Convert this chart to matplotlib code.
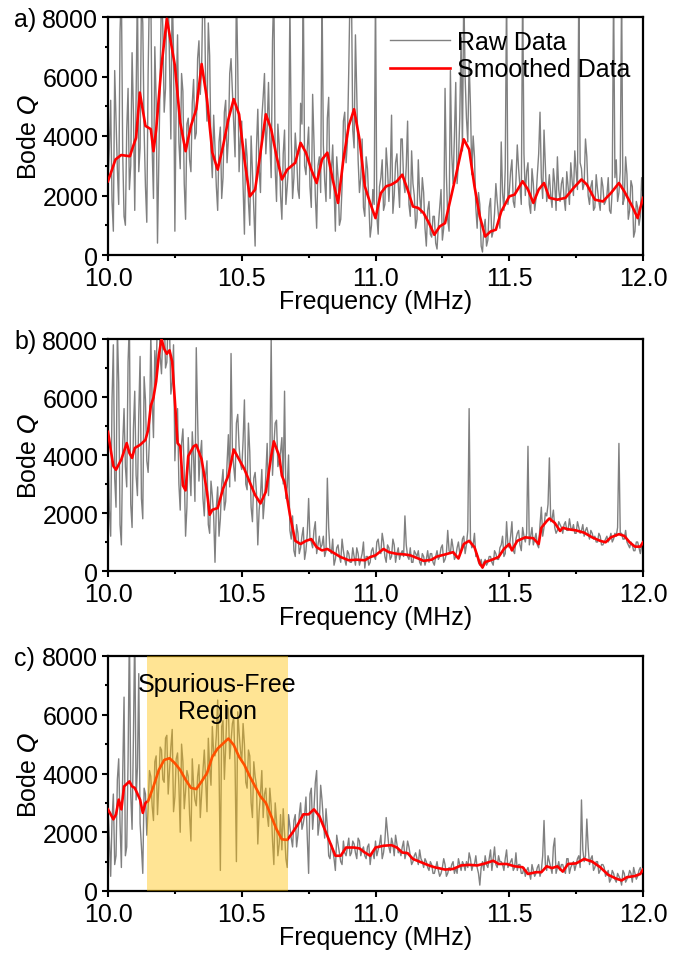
import numpy as np
import matplotlib
matplotlib.use("Agg")
import matplotlib.pyplot as plt
from matplotlib.ticker import MultipleLocator, FormatStrFormatter

plt.rcParams['font.family'] = ['Liberation Sans', 'DejaVu Sans']

# ---------------- data ----------------
# raw data sampled every 0.005 MHz: "on-grid" values at 10.00, 10.01, ...
# and "mid" values at 10.005, 10.015, ...
f_start, f_stop, f_step = 10.0, 12.0, 0.01

raw_a = [
    2400, 5200, 800, 4600, 1700, 9000, 1300, 4200, 2200, 6800,
    1500, 9000, 3600, 7800, 2300, 6100, 9000, 1900, 5200, 3100,
    9000, 4800, 9000, 6500, 9000, 800, 7400, 2900, 5500, 1200,
    4600, 2800, 5900, 4100, 7200, 6300, 9000, 4500, 6700, 2600,
    3600, 1500, 4300, 2600, 5200, 3900, 6600, 4400, 9000, 2800,
    4500, 700, 3300, 1000, 2800, 300, 4900, 2100, 5300, 3400,
    5800, 2600, 9000, 1800, 3700, 1200, 4200, 2300, 8500, 1900,
    4100, 2200, 5100, 9000, 2700, 4300, 1600, 3800, 900, 3300,
    9000, 2500, 4600, 1900, 3700, 800, 2600, 1200, 4500, 3100,
    6200, 9000, 3600, 5400, 2100, 3900, 1300, 2900, 600, 2200,
    9000, 700, 2600, 1500, 3600, 1800, 4700, 2000, 3400, 1600,
    3900, 2100, 4500, 1300, 2400, 900, 3200, 1400, 2100, 300,
    1800, 600, 1300, 200, 1600, 500, 5600, 1200, 6200, 2400,
    5800, 3100, 7300, 9000, 4600, 6500, 2700, 3300, 900, 1700,
    100, 1200, 500, 1900, 800, 2400, 1300, 3800, 1500, 9000,
    2100, 3200, 1600, 3700, 2300, 9000, 2000, 3100, 1400, 2400,
    1900, 3400, 2600, 4200, 1800, 2700, 1600, 2400, 3300, 1800,
    2600, 1500, 2300, 3100, 2000, 2800, 9000, 2900, 2400, 3300,
    1700, 2500, 1600, 2200, 1500, 2300, 1800, 2600, 1400, 9000,
    3200, 2100, 9000, 1900, 2700, 1500, 2300, 800, 1600, 1300,
    2000,
]
raw_a_mid = [
    3600, 1800, 6200, 2900, 7500, 3400, 1000, 5600, 3000, 4800,
    5400, 2800, 8600, 4200, 1100, 9000, 3600, 7000, 400, 6000,
    7600, 5600, 9000, 3900, 6800, 5400, 3800, 6100, 2400, 4400,
    3200, 5100, 3900, 6600, 5400, 9000, 5700, 7800, 3500, 4700,
    2300, 3800, 1900, 4800, 3100, 6100, 5500, 3300, 6400, 3900,
    2300, 3900, 1800, 4000, 1500, 3600, 2900, 4600, 6100, 4300,
    3900, 7200, 2900, 4400, 2000, 3400, 1700, 3000, 4000, 2600,
    3400, 1900, 4400, 3000, 3600, 2300, 5400, 2000, 3000, 2100,
    3700, 1800, 5300, 2800, 2300, 3300, 1000, 2300, 4800, 3800,
    9000, 4200, 7400, 3200, 2600, 1600, 3300, 1800, 1000, 1700,
    1300, 2300, 3200, 1700, 2900, 2600, 1400, 3100, 2400, 3900,
    2500, 3000, 1700, 3500, 2000, 1200, 2000, 2600, 900, 1500,
    700, 1300, 400, 1000, 2200, 900, 2700, 800, 3400, 4000,
    2400, 4600, 3500, 6000, 3800, 5000, 4000, 1600, 2100, 300,
    900, 300, 1600, 600, 1400, 1800, 900, 2100, 2900, 1700,
    2800, 1800, 2500, 2900, 1700, 3400, 2800, 1700, 2900, 1500,
    2700, 4800, 1900, 3000, 2200, 2000, 2900, 1500, 2200, 2400,
    1900, 2800, 1700, 2500, 3500, 2200, 3100, 2200, 3900, 2000,
    2300, 1500, 2700, 1800, 2600, 1700, 2000, 1500, 2200, 2600,
    1800, 2800, 1700, 3300, 1200, 2500, 600, 1800, 1000, 2600,
]

raw_b = [
    4500, 1200, 7800, 2200, 6500, 900, 5600, 2900, 8600, 1500,
    6200, 2600, 7400, 1800, 5900, 3400, 8200, 4600, 6600, 9000,
    6800, 9000, 7200, 8400, 6500, 3800, 5600, 2100, 4900, 1200,
    4600, 2600, 3900, 7700, 3100, 4500, 1900, 3800, 1300, 2600,
    300, 2900, 1800, 3500, 2400, 4700, 7500, 3600, 5100, 4300,
    3500, 5900, 2800, 4100, 1700, 3400, 900, 2600, 1800, 3300,
    2600, 8000, 4300, 5200, 3800, 4600, 6200, 2900, 1400, 1900,
    500, 1300, 800, 1500, 700, 2500, 1000, 1400, 600, 1200,
    900, 500, 3200, 700, 1100, 400, 900, 300, 700, 200,
    600, 300, 500, 800, 200, 600, 100, 500, 300, 800,
    400, 1100, 600, 1000, 300, 800, 500, 900, 600, 400,
    700, 1900, 500, 800, 300, 600, 700, 200, 500, 400,
    300, 600, 200, 700, 500, 900, 400, 1400, 600, 800,
    500, 1000, 700, 1200, 900, 5600, 800, 1300, 600, 200,
    100, 400, 300, 500, 200, 600, 400, 900, 500, 1700,
    800, 1700, 600, 1300, 900, 1500, 1000, 4300, 1200, 900,
    1300, 800, 2200, 1500, 1900, 3900, 1800, 1500, 1400, 1600,
    1300, 1700, 1400, 1500, 1600, 1300, 1500, 1400, 1200, 1500,
    1100, 1300, 1200, 1000, 1200, 900, 1100, 1000, 1300, 1100,
    1200, 4400, 1300, 1100, 1000, 800, 900, 700, 1000, 600,
    1000,
]
raw_b_mid = [
    2100, 5900, 3200, 8400, 1600, 4400, 3600, 7200, 2300, 4900,
    3300, 5400, 2500, 6700, 3800, 4600, 5900, 7600, 9000, 7400,
    8300, 7000, 8800, 6100, 7800, 5100, 3000, 4400, 3400, 2200,
    3500, 4800, 2400, 5300, 4000, 2500, 3300, 1600, 3100, 1900,
    2200, 1200, 3000, 2100, 3700, 2900, 4200, 3100, 5400, 3700,
    4500, 3000, 5100, 2200, 3200, 2700, 2100, 3500, 2400, 4400,
    3800, 3300, 5100, 3600, 4100, 3000, 2500, 4000, 1100, 700,
    1600, 600, 1200, 400, 1300, 1100, 800, 1700, 900, 800,
    1200, 700, 1500, 600, 200, 800, 500, 1100, 400, 700,
    300, 800, 200, 600, 400, 1000, 500, 200, 700, 500,
    1000, 700, 1300, 500, 900, 400, 1100, 300, 800, 600,
    500, 900, 400, 300, 700, 500, 300, 600, 200, 700,
    600, 300, 500, 400, 800, 300, 600, 700, 1100, 400,
    800, 600, 1100, 600, 1400, 1100, 900, 500, 300, 400,
    300, 200, 500, 300, 700, 400, 800, 1200, 600, 900,
    1200, 700, 1100, 1400, 700, 1200, 1300, 900, 1500, 1100,
    900, 1600, 1200, 2000, 2300, 1700, 2100, 1300, 1700, 1500,
    1600, 1400, 1800, 1400, 1300, 1700, 1300, 1600, 1400, 1300,
    1400, 1100, 1000, 1300, 900, 1000, 1200, 1100, 1000, 1300,
    1500, 1300, 1100, 1400, 900, 1000, 700, 1000, 800, 900,
]

raw_c = [
    2800, 500, 3300, 1200, 4500, 800, 6600, 1500, 9000, 2100,
    9000, 4200, 2300, 600, 3300, 2800, 3900, 2400, 4600, 3600,
    4800, 3700, 5300, 4100, 5500, 3200, 4700, 2000, 4400, 3400,
    3900, 1700, 3600, 2900, 4300, 3300, 4800, 2700, 4200, 5600,
    4600, 6500, 700, 5800, 4900, 6200, 5100, 5900, 1000, 5400,
    4400, 5000, 3500, 4600, 2500, 3900, 1600, 3300, 2500, 3500,
    2200, 2900, 900, 2400, 1600, 1400, 2000, 800, 2200, 1500,
    2600, 1900, 3000, 2300, 3200, 600, 3500, 2800, 4100, 2300,
    3100, 1800, 2200, 1100, 1400, 700, 1600, 1000, 1700, 1200,
    1800, 1300, 1600, 1100, 1700, 1400, 1200, 1500, 900, 1300,
    1700, 1400, 1900, 1300, 2500, 1500, 1800, 1200, 1600, 1400,
    1500, 1100, 1700, 1200, 1000, 1300, 900, 1100, 800, 1000,
    700, 900, 600, 1000, 500, 800, 900, 600, 700, 1000,
    800, 1100, 700, 900, 1000, 1300, 700, 900, 800, 200,
    1000, 1200, 800, 1400, 1100, 900, 1200, 1000, 700, 1400,
    900, 1100, 800, 700, 900, 600, 500, 800, 400, 700,
    600, 900, 700, 2400, 700, 1000, 600, 1800, 800, 700,
    900, 600, 1100, 800, 1000, 900, 1200, 3100, 1000, 2450,
    900, 1200, 800, 1000, 700, 900, 500, 700, 400, 600,
    300, 500, 200, 600, 400, 700, 300, 600, 500, 800,
    700,
]
raw_c_mid = [
    1800, 2400, 900, 3800, 2300, 4000, 1200, 4400, 3300, 5200,
    3100, 7400, 1500, 3500, 1900, 4100, 2900, 4400, 2600, 4900,
    3800, 5200, 3300, 4900, 2700, 4500, 3600, 5000, 2800, 4100,
    2600, 4500, 3100, 3900, 2500, 4100, 3800, 5200, 3600, 4700,
    5300, 4200, 5600, 3800, 6300, 4500, 5700, 4300, 6100, 4800,
    5700, 3700, 4800, 3000, 4400, 3600, 2700, 4100, 3300, 2600,
    3500, 1700, 3000, 1200, 2600, 2800, 1100, 2600, 1800, 2400,
    1500, 2600, 2100, 2600, 1800, 3300, 2100, 3700, 1900, 3600,
    2400, 2800, 1200, 1600, 1100, 1900, 1300, 900, 1300, 1500,
    1200, 1700, 1300, 1800, 1200, 1500, 1100, 1600, 1300, 1100,
    1200, 1600, 1100, 1700, 2000, 1300, 1600, 1900, 1300, 1200,
    1700, 1300, 1500, 900, 1200, 1100, 1400, 1000, 1100, 800,
    1000, 600, 800, 700, 600, 1100, 500, 800, 900, 600,
    600, 900, 1000, 700, 800, 1100, 900, 1200, 600, 800,
    700, 900, 1100, 700, 1500, 800, 1000, 900, 1100, 800,
    1000, 700, 1300, 900, 600, 800, 700, 600, 900, 500,
    800, 500, 1200, 900, 1200, 800, 1500, 600, 1000, 900,
    700, 1100, 600, 900, 700, 1100, 800, 1400, 1200, 1500,
    1100, 700, 1000, 600, 900, 800, 600, 300, 700, 400,
    600, 400, 700, 300, 500, 600, 800, 400, 700, 600,
]

smooth_a_f = [10.00, 10.028, 10.049, 10.082, 10.09, 10.105, 10.119, 10.14, 10.16, 10.17,
              10.18, 10.20, 10.22, 10.25, 10.27, 10.29, 10.31, 10.33, 10.35, 10.37,
              10.39, 10.41, 10.43, 10.45, 10.47, 10.49, 10.51, 10.53, 10.55, 10.57,
              10.59, 10.61, 10.63, 10.65, 10.67, 10.70, 10.72, 10.74, 10.76, 10.78,
              10.80, 10.82, 10.84, 10.86, 10.88, 10.90, 10.92, 10.94, 10.96, 10.98,
              11.00, 11.02, 11.04, 11.06, 11.08, 11.10, 11.12, 11.14, 11.16, 11.18,
              11.20, 11.22, 11.24, 11.26, 11.28, 11.30, 11.33, 11.35, 11.37, 11.39,
              11.41, 11.43, 11.45, 11.47, 11.50, 11.52, 11.55, 11.57, 11.59, 11.61,
              11.63, 11.65, 11.68, 11.71, 11.74, 11.77, 11.79, 11.82, 11.85, 11.88,
              11.91, 11.93, 11.96, 11.98, 12.00]
smooth_a_q = [2480, 3210, 3360, 3320, 3550, 3940, 5460, 4340, 4230, 3490,
              4200, 6370, 7940, 6370, 4450, 3490, 4340, 4900, 6420, 5240,
              3440, 2870, 3660, 4560, 5240, 4730, 3210, 1970, 2200, 3440,
              4730, 4230, 3320, 2540, 2870, 3100, 3770, 3440, 2870, 2420,
              3210, 3440, 2540, 1750, 3210, 4340, 4900, 3890, 2310, 1750,
              1240, 2080, 2310, 2370, 2480, 2700, 2200, 1630, 1580, 1410,
              1070, 680, 960, 1070, 1860, 2650, 3890, 3550, 2310, 1300,
              620, 790, 850, 1460, 1970, 2030, 2480, 2200, 1750, 2200,
              2420, 1920, 1860, 1920, 2250, 2540, 2370, 1860, 1800, 2080,
              2420, 2140, 1630, 1240, 1920]

smooth_b_f = [10.00, 10.01, 10.02, 10.03, 10.05, 10.07, 10.08, 10.09, 10.10, 10.12,
              10.14, 10.15, 10.16, 10.17, 10.18, 10.19, 10.20, 10.21, 10.22, 10.23,
              10.24, 10.25, 10.26, 10.27, 10.28, 10.29, 10.30, 10.32, 10.33, 10.35,
              10.37, 10.38, 10.39, 10.41, 10.43, 10.45, 10.47, 10.49, 10.51, 10.53,
              10.55, 10.57, 10.59, 10.61, 10.62, 10.64, 10.65, 10.66, 10.68, 10.70,
              10.72, 10.74, 10.76, 10.78, 10.80, 10.82, 10.85, 10.87, 10.90, 10.93,
              10.96, 10.98, 11.00, 11.03, 11.05, 11.08, 11.11, 11.13, 11.16, 11.18,
              11.21, 11.23, 11.26, 11.29, 11.31, 11.33, 11.35, 11.37, 11.39, 11.40,
              11.41, 11.43, 11.46, 11.48, 11.50, 11.51, 11.53, 11.56, 11.59, 11.61,
              11.62, 11.64, 11.65, 11.67, 11.69, 11.70, 11.72, 11.75, 11.78, 11.81,
              11.84, 11.86, 11.88, 11.91, 11.93, 11.95, 11.97, 11.99, 12.00]
smooth_b_q = [4800, 4190, 3620, 3490, 3850, 4410, 4070, 3900, 4240, 4350,
              4520, 4860, 5700, 5980, 6540, 7440, 8000, 7660, 7490, 7610,
              7210, 5870, 4410, 4300, 2950, 2780, 3960, 4300, 4350, 3850,
              2730, 1940, 2110, 2170, 2840, 3290, 4190, 3850, 3510, 3060,
              2620, 2330, 2730, 3960, 4470, 3960, 3290, 3060, 1940, 1040,
              930, 1040, 1100, 820, 710, 760, 590, 480, 370, 390,
              370, 480, 540, 760, 650, 590, 570, 540, 430, 350,
              390, 500, 570, 650, 430, 930, 1040, 820, 260, 120,
              310, 370, 480, 760, 930, 710, 1040, 1160, 1130, 930,
              1490, 1720, 1810, 1660, 1380, 1490, 1440, 1400, 1320, 1160,
              1040, 990, 1160, 1270, 1210, 990, 840, 840, 990]

smooth_c_f = [10.00, 10.02, 10.03, 10.04, 10.05, 10.06, 10.08, 10.09, 10.10, 10.12,
              10.13, 10.14, 10.15, 10.17, 10.19, 10.21, 10.23, 10.25, 10.27, 10.29,
              10.31, 10.33, 10.35, 10.37, 10.39, 10.41, 10.43, 10.45, 10.47, 10.49,
              10.51, 10.53, 10.55, 10.57, 10.59, 10.61, 10.63, 10.65, 10.67, 10.69,
              10.71, 10.73, 10.75, 10.77, 10.79, 10.81, 10.83, 10.85, 10.87, 10.89,
              10.92, 10.94, 10.96, 10.98, 11.00, 11.03, 11.06, 11.08, 11.10, 11.12,
              11.14, 11.17, 11.20, 11.22, 11.26, 11.29, 11.32, 11.35, 11.38, 11.41,
              11.44, 11.46, 11.49, 11.52, 11.55, 11.57, 11.60, 11.62, 11.64, 11.66,
              11.68, 11.70, 11.72, 11.75, 11.78, 11.81, 11.84, 11.87, 11.90, 11.92,
              11.94, 11.97, 11.99, 12.00]
smooth_c_q = [2780, 2440, 2610, 3110, 2780, 3560, 3730, 3560, 3510, 3110,
              2660, 3000, 3060, 3560, 4120, 4460, 4520, 4350, 4120, 3790,
              3510, 3470, 3730, 4010, 4570, 4850, 5020, 5190, 4970, 4570,
              4290, 3900, 3560, 3220, 3000, 2550, 2100, 1760, 1740, 1990,
              2270, 2610, 2610, 2780, 2550, 2100, 1650, 1200, 1200, 1480,
              1480, 1450, 1310, 1200, 1480, 1540, 1560, 1480, 1310, 1290,
              1090, 980, 870, 810, 730, 750, 870, 890, 870, 940,
              1030, 920, 920, 840, 810, 580, 640, 640, 840, 780,
              840, 660, 920, 940, 1090, 1000, 810, 550, 420, 360,
              470, 510, 580, 730]

region_f = [10.145, 10.672]
region_label = "Spurious-Free\nRegion"
panel_labels = ["a)", "b)", "c)"]
legend_labels = ["Raw Data", "Smoothed Data"]


def interleave(on_grid, mid):
    """Merge on-grid samples and half-step samples into one ordered series."""
    f_on = np.round(np.arange(f_start, f_stop + f_step / 2, f_step), 4)
    f_mid = np.round(f_on[:-1] + f_step / 2, 4)
    f = np.concatenate([f_on, f_mid])
    q = np.concatenate([np.asarray(on_grid, float), np.asarray(mid, float)])
    order = np.argsort(f)
    return f[order], q[order]


# ---------------- figure ----------------
W, H = 685, 954
fig = plt.figure(figsize=(W / 100, H / 100), dpi=100)

left = 108 / W
width = (643 - 108) / W
boxes = [(18, 256), (340, 572), (657, 892)]

raws = [(raw_a, raw_a_mid), (raw_b, raw_b_mid), (raw_c, raw_c_mid)]
smooths = [(smooth_a_f, smooth_a_q), (smooth_b_f, smooth_b_q), (smooth_c_f, smooth_c_q)]

FS = 18
for i, (top_px, bot_px) in enumerate(boxes):
    ax = fig.add_axes([left, 1 - bot_px / H, width, (bot_px - top_px) / H])
    fr, qr = interleave(*raws[i])
    l1, = ax.plot(fr, qr, color='#808080', lw=1.0, zorder=2)
    l2, = ax.plot(smooths[i][0], smooths[i][1], color='#FF0000', lw=1.9, zorder=3)
    ax.set_xlim(10.0, 12.0)
    ax.set_ylim(0, 8000)
    ax.xaxis.set_major_locator(MultipleLocator(0.5))
    ax.xaxis.set_minor_locator(MultipleLocator(0.25))
    ax.yaxis.set_major_locator(MultipleLocator(2000))
    ax.yaxis.set_minor_locator(MultipleLocator(1000))
    ax.xaxis.set_major_formatter(FormatStrFormatter('%.1f'))
    ax.tick_params(which='major', direction='out', length=4.5, width=1.5,
                   top=False, right=False, labelsize=FS, pad=2.5)
    ax.tick_params(axis='x', which='major', pad=3.5)
    ax.tick_params(which='minor', direction='out', length=2.5, width=1.5,
                   top=False, right=False)
    for s in ax.spines.values():
        s.set_linewidth(1.6)
    ax.set_xlabel('Frequency (MHz)', fontsize=FS, labelpad=-1)
    ax.set_ylabel('Bode $\\mathit{Q}$', fontsize=FS, labelpad=1)
    fig.text(14 / W, 1 - (top_px + 2) / H, panel_labels[i], fontsize=FS,
             ha='left', va='center')
    if i == 0:
        ax.legend([l1, l2], legend_labels, loc='upper right', frameon=False,
                  fontsize=FS, handlelength=2.4, labelspacing=0.15,
                  handletextpad=0.3, borderaxespad=0.1,
                  bbox_to_anchor=(1.0, 1.0))
    if i == 2:
        ax.axvspan(region_f[0], region_f[1], color='#FFC000', alpha=0.42,
                   lw=0, zorder=4)
        ax.text(sum(region_f) / 2, 6600, region_label, fontsize=FS,
                ha='center', va='center', linespacing=1.15, zorder=5)

fig.savefig('out.png', dpi=100)
